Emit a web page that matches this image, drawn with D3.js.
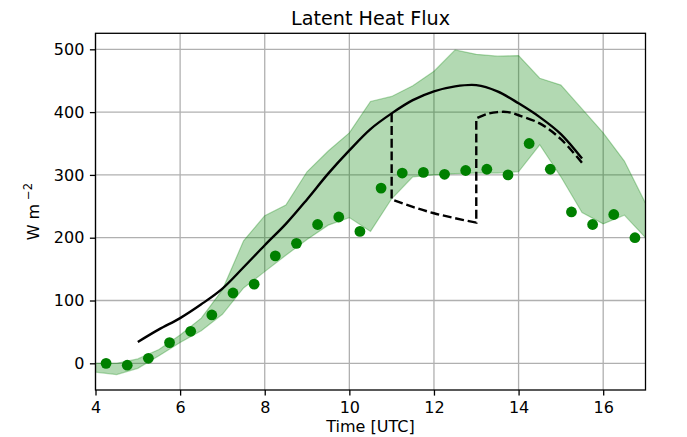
<!DOCTYPE html>
<html>
<head>
<meta charset="utf-8">
<script src="https://cdn.jsdelivr.net/npm/d3@7"></script>
<style>
  body { margin: 0; background: #fff; }
  svg { display: block; }
  text { font-family: "DejaVu Sans", sans-serif; fill: #000; }
</style>
</head>
<body>
<svg id="chart" width="687" height="437"></svg>
<script>
// Observed latent heat flux (half-hourly, W m-2)
const obsTimes = [4.25, 4.75, 5.25, 5.75, 6.25, 6.75, 7.25, 7.75, 8.25, 8.75, 9.25, 9.75, 10.25,
                  10.75, 11.25, 11.75, 12.25, 12.75, 13.25, 13.75, 14.25, 14.75, 15.25, 15.75, 16.25, 16.75];
const obsFlux  = [0, -3, 8, 33, 51, 77, 112, 126, 171, 191, 221, 233, 210,
                  279, 303, 304, 301, 307, 309, 300, 350, 309, 241, 221, 237, 200];

// Uncertainty envelope
const bandTimes = [4.0, 4.5, 5.0, 5.5, 6.0, 6.5, 7.0, 7.5, 8.0, 8.5, 9.0, 9.5, 10.0, 10.5,
                   11.0, 11.5, 12.0, 12.5, 13.0, 13.5, 14.0, 14.5, 15.0, 15.5, 16.0, 16.5, 17.0];
const bandLower = [-14, -18, -8, 12, 33, 52, 78, 120, 146, 172, 197, 220, 232, 210,
                   262, 297, 300, 302, 303, 303, 305, 348, 297, 240, 222, 236, 200];
const bandUpper = [0, 0, 7, 22, 45, 72, 117, 195, 235, 252, 305, 338, 367, 417,
                   425, 442, 465, 499, 492, 489, 490, 454, 443, 405, 367, 322, 255];

// Model run (solid)
const modelTimes = [5.0, 5.5, 6.0, 6.5, 7.0, 7.5, 8.0, 8.5, 9.0, 9.5, 10.0, 10.5,
                    11.0, 11.5, 12.0, 12.5, 13.0, 13.5, 14.0, 14.5, 15.0, 15.5];
const modelFlux  = [34, 54, 72, 94, 119, 153, 188, 222, 261, 302, 339, 373,
                    398, 419, 433, 441, 443, 433, 414, 392, 365, 326];

// Perturbed run (dashed), split into its continuous pieces
const altSegmentTimes = [[11.0], [11.0, 11.5, 12.0, 12.5, 13.0],
                         [13.0, 13.25, 13.5, 13.75, 14.0, 14.5, 15.0, 15.5]];
const altSegmentFlux  = [[398], [261, 249, 239, 231, 224],
                         [390, 397, 400, 400, 395, 382, 357, 319]];

const xTicks = [4, 6, 8, 10, 12, 14, 16];
const yTicks = [0, 100, 200, 300, 400, 500];

const svg = d3.select("#chart");
const plotLeft = 95.5, plotRight = 645.5, plotTop = 33.3, plotBottom = 390;

const x = d3.scaleLinear().domain([4, 17]).range([plotLeft, plotRight]);
const y = d3.scaleLinear().domain([-42.5, 525.5]).range([plotBottom, plotTop]);

svg.append("defs").append("clipPath").attr("id", "plotClip")
  .append("rect").attr("x", plotLeft).attr("y", plotTop)
  .attr("width", plotRight - plotLeft).attr("height", plotBottom - plotTop);

// Grid
const grid = svg.append("g");
grid.selectAll("line.gx").data(xTicks).join("line")
  .attr("x1", d => x(d)).attr("x2", d => x(d))
  .attr("y1", plotTop).attr("y2", plotBottom)
  .attr("stroke", "#b0b0b0").attr("stroke-width", 1.3);
grid.selectAll("line.gy").data(yTicks).join("line")
  .attr("x1", plotLeft).attr("x2", plotRight)
  .attr("y1", d => y(d)).attr("y2", d => y(d))
  .attr("stroke", "#b0b0b0").attr("stroke-width", 1.3);

const plot = svg.append("g").attr("clip-path", "url(#plotClip)");

// Envelope
const bandData = bandTimes.map((t, i) => ({ t, lo: bandLower[i], hi: bandUpper[i] }));
plot.append("path")
  .datum(bandData)
  .attr("d", d3.area().x(d => x(d.t)).y0(d => y(d.lo)).y1(d => y(d.hi)))
  .attr("fill", "green").attr("fill-opacity", 0.3)
  .attr("stroke", "green").attr("stroke-opacity", 0.3).attr("stroke-width", 1.2);

// Observations
plot.selectAll("circle.obs")
  .data(obsTimes.map((t, i) => ({ t, v: obsFlux[i] })))
  .join("circle")
  .attr("cx", d => x(d.t)).attr("cy", d => y(d.v)).attr("r", 5.4)
  .attr("fill", "green");

// Solid model curve
const smooth = d3.line().x(d => x(d.t)).y(d => y(d.v)).curve(d3.curveCatmullRom.alpha(0.5));
plot.append("path")
  .datum(modelTimes.map((t, i) => ({ t, v: modelFlux[i] })))
  .attr("d", smooth)
  .attr("fill", "none").attr("stroke", "#000").attr("stroke-width", 2.4);

// Dashed curve: join the smooth pieces with straight vertical jumps
let altPath = "";
altSegmentTimes.forEach((ts, k) => {
  const pts = ts.map((t, i) => ({ t, v: altSegmentFlux[k][i] }));
  const seg = pts.length > 1 ? smooth(pts) : `M${x(pts[0].t)},${y(pts[0].v)}`;
  altPath += k === 0 ? seg : "L" + seg.slice(1);
});
plot.append("path")
  .attr("d", altPath)
  .attr("fill", "none").attr("stroke", "#000").attr("stroke-width", 2.4)
  .attr("stroke-dasharray", "8.9,3.8");

// Axes
const xAxis = svg.append("g").attr("transform", `translate(0,${plotBottom})`)
  .call(d3.axisBottom(x).tickValues(xTicks).tickSize(5.6).tickPadding(5.6).tickFormat(d3.format("d")));
const yAxis = svg.append("g").attr("transform", `translate(${plotLeft},0)`)
  .call(d3.axisLeft(y).tickValues(yTicks).tickSize(5.6).tickPadding(5.6).tickFormat(d3.format("d")));
[xAxis, yAxis].forEach(a => {
  a.select(".domain").remove();
  a.selectAll("line").attr("stroke", "#000").attr("stroke-width", 1.3);
  a.selectAll("text").attr("font-size", 16).attr("font-family", "DejaVu Sans").attr("fill", "#000");
});

// Frame
svg.append("rect").attr("x", plotLeft).attr("y", plotTop)
  .attr("width", plotRight - plotLeft).attr("height", plotBottom - plotTop)
  .attr("fill", "none").attr("stroke", "#000").attr("stroke-width", 1.3);

// Titles
svg.append("text").attr("x", (plotLeft + plotRight) / 2).attr("y", 25)
  .attr("text-anchor", "middle").attr("font-size", 19.2).text("Latent Heat Flux");

svg.append("text").attr("x", (plotLeft + plotRight) / 2).attr("y", 432)
  .attr("text-anchor", "middle").attr("font-size", 16).text("Time [UTC]");

const yl = svg.append("text")
  .attr("transform", `translate(39,${(plotTop + plotBottom) / 2}) rotate(-90)`)
  .attr("text-anchor", "middle").attr("font-size", 16);
yl.append("tspan").text("W m");
yl.append("tspan").attr("dx", 4).attr("dy", -7).attr("font-size", 11.5).text("−2");
</script>
</body>
</html>
